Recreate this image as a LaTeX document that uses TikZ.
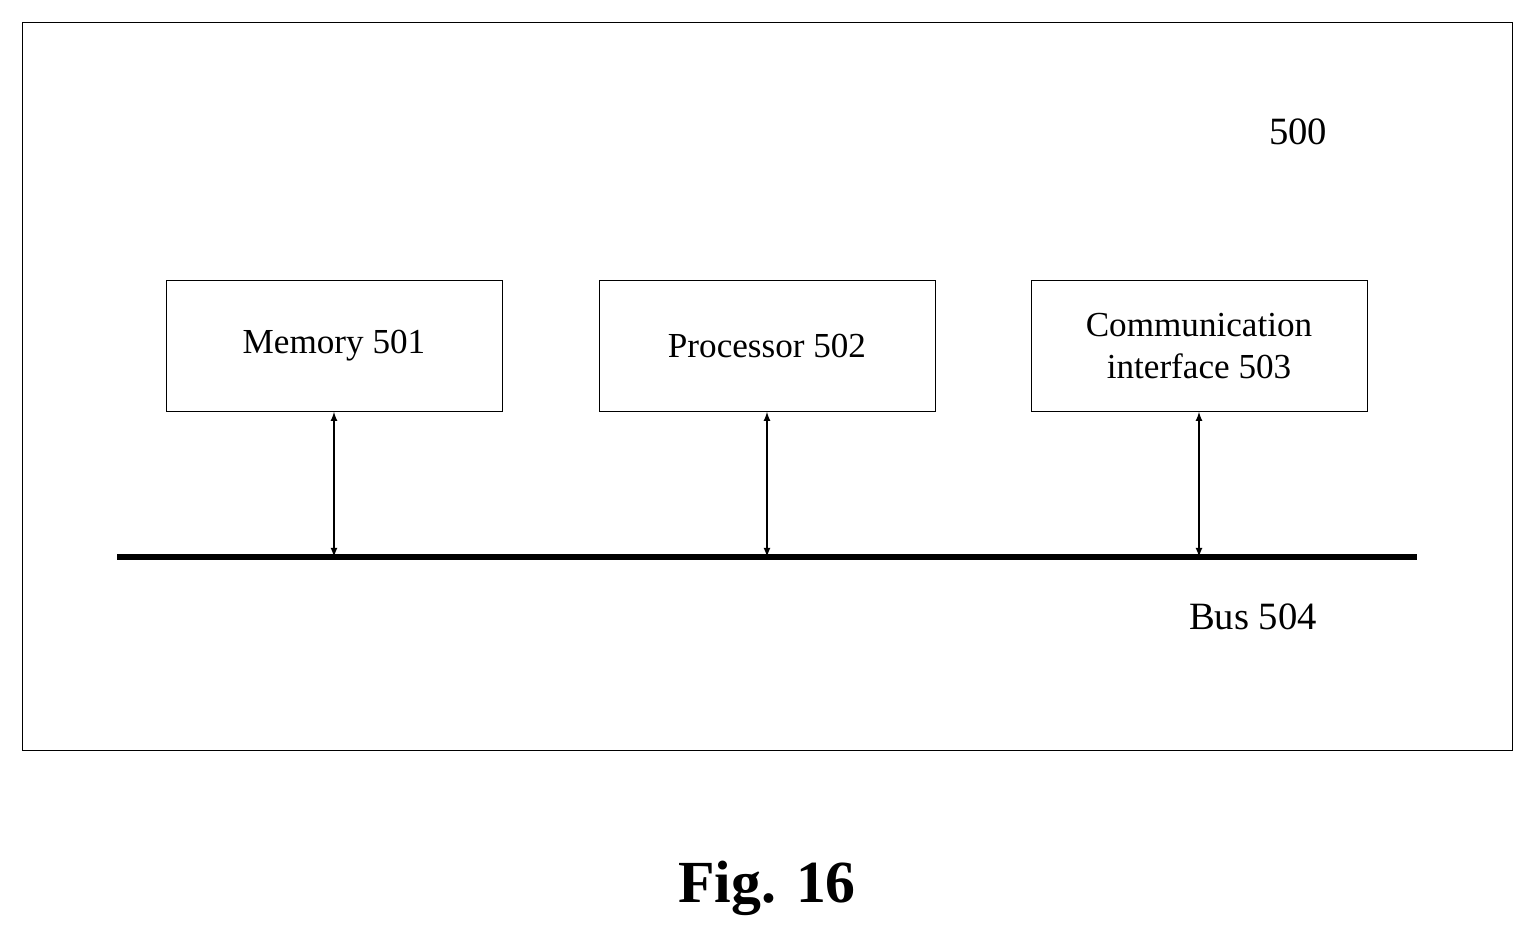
\documentclass[tikz,border=0pt]{standalone}
\usepackage{fontspec}
\setmainfont{Liberation Serif}
\usetikzlibrary{arrows, calc}
\begin{document}
\begin{tikzpicture}[x=0.02cm, y=-0.02cm,
    unit/.style={draw, thin, minimum width=6.72cm, minimum height=2.62cm, align=center, font=\fontsize{20}{24}\selectfont},
    link/.style={thick, latex-latex}]
            \useasboundingbox (0,0) rectangle (1534,944);
            \draw[thin] (22,22) rectangle (1512,750);% outer frame
            \node[font=\fontsize{22}{26}\selectfont] (dev) at (1298,132) {500};

            \node[unit] (mem)  at (334,346)  {Memory 501};
            \node[unit] (proc) at (767,346)  {Processor 502};
            \node[unit] (comm) at (1199,346) {Communication\\interface 503};

            \coordinate (BusL) at (117,557);
            \coordinate (BusR) at (1417,557);
            \draw[line width=3.5pt] (BusL) -- (BusR);
            \node[font=\fontsize{22}{26}\selectfont] (bus) at (1253,617) {Bus 504};

            \draw[link] (mem.south)  -- (mem.south |- BusL);
            \draw[link] (proc.south) -- (proc.south |- BusL);
            \draw[link] (comm.south) -- (comm.south |- BusL);

            \node[font=\fontsize{34}{40}\selectfont\bfseries] (fig) at (767,888) {Fig. 16};
        \end{tikzpicture}
\end{document}
